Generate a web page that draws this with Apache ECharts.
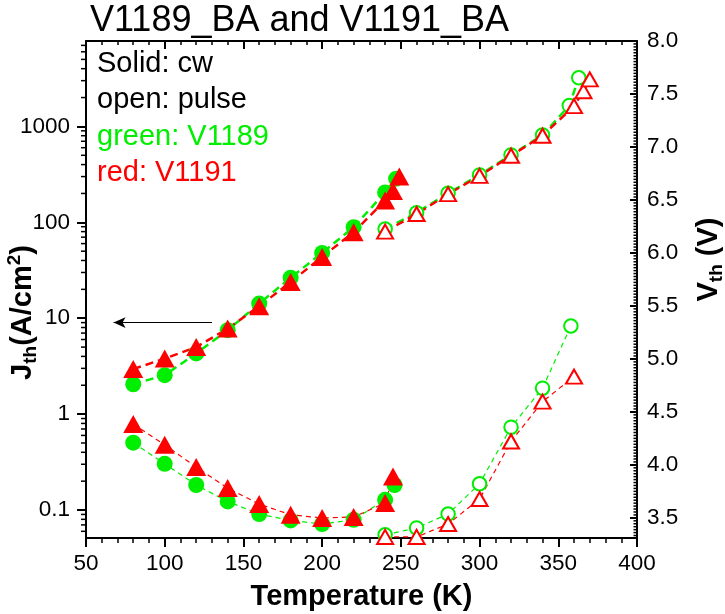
<!DOCTYPE html>
<html><head><meta charset="utf-8">
<script src="https://cdn.jsdelivr.net/npm/echarts@6/dist/echarts.min.js"></script>
<style>html,body{margin:0;padding:0;background:#fff}#c{width:725px;height:614px}</style>
</head><body><div id="c"></div>
<script>
// ---- data ----
const titleText = 'V1189_BA and V1191_BA';
const notes = ['Solid: cw', 'open: pulse', 'green: V1189', 'red: V1191'];

// J_th cw (left, log axis)
const tJcwGreen = [80, 100, 120, 140, 160, 180, 200, 220, 240, 247];
const jCwGreen  = [2.05, 2.55, 4.3, 7.5, 14.2, 26.5, 48, 89, 205, 285];
const tJcwRed   = [80, 100, 120, 140, 160, 180, 200, 220, 240, 245, 249];
const jCwRed    = [2.95, 3.8, 5.0, 7.8, 13.3, 23.9, 43.6, 79, 169, 212, 300];

// J_th pulse (left, log axis)
const tJpGreen = [240, 260, 280, 300, 320, 340, 357, 363];
const jPGreen  = [85, 126, 201, 312, 505, 812, 1650, 3215];
const tJpRed   = [240, 260, 280, 300, 320, 340, 360, 366, 370];
const jPRed    = [80, 122, 197, 305, 495, 800, 1630, 2330, 3090];

// V_th cw (right axis)
const tVcwGreen = [80, 100, 120, 140, 160, 180, 200, 220, 240, 246];
const vCwGreen  = [4.21, 4.01, 3.81, 3.655, 3.536, 3.476, 3.442, 3.482, 3.67, 3.81];
const tVcwRed   = [80, 100, 120, 140, 160, 180, 200, 220, 240, 245];
const vCwRed    = [4.385, 4.189, 3.979, 3.781, 3.63, 3.53, 3.499, 3.508, 3.64, 3.89];

// V_th pulse (right axis)
const tVpGreen = [240, 260, 280, 300, 320, 340, 358];
const vPGreen  = [3.34, 3.405, 3.536, 3.822, 4.356, 4.724, 5.311];
const tVpRed   = [240, 260, 280, 300, 320, 340, 360];
const vPRed    = [3.32, 3.32, 3.442, 3.678, 4.221, 4.597, 4.833];

// arrow annotation (data coords)
const arrowFrom = [130, 9.0];
const arrowTo   = [67.5, 9.0];

// axis ranges
const xMin = 50, xMax = 400, xStep = 50;
const jMin = 0.0511, jMax = 7775;
const vMin = 3.31, vMax = 8.0;
const logMinorTicks = [0.06,0.07,0.08,0.09, 0.2,0.3,0.4,0.5,0.6,0.7,0.8,0.9, 2,3,4,5,6,7,8,9,
                       20,30,40,50,60,70,80,90, 200,300,400,500,600,700,800,900, 2000,3000,4000,5000,6000,7000];
const vMinorStep = 0.5 / 18;

// ---- build ----
const GREEN = '#00ee00', RED = '#ff0000';
const FONT = "'Liberation Sans', Arial, sans-serif";
const pairs = (xs, ys) => xs.map((x, i) => [x, ys[i]]);

const vMinorTicks = [];
for (let k = 1; ; k++) {
  const v = 3.0 + k * vMinorStep;
  if (v >= vMax) break;
  if (v <= vMin) continue;
  const r = v / 0.5;
  if (Math.abs(r - Math.round(r)) < 1e-6) continue;
  vMinorTicks.push(v);
}

function lineSeries(xs, ys, yIdx, color, symbol, size, lw, dash, opts) {
  const open = symbol.startsWith('empty');
  return Object.assign({
    type: 'line', xAxisIndex: 0, yAxisIndex: yIdx,
    data: pairs(xs, ys),
    symbol: symbol, symbolSize: size, showAllSymbol: true,
    lineStyle: { color: color, width: lw, type: dash },
    itemStyle: { color: color, borderWidth: open ? 2.2 : 0, borderColor: color },
    emphasis: { disabled: true },
    animation: false, clip: true, z: 3
  }, opts || {});
}

const chart = echarts.init(document.getElementById('c'), null, { renderer: 'canvas' });

const tickSeries = (data, yIdx, len) => ({
  type: 'custom', xAxisIndex: 0, yAxisIndex: yIdx, silent: true, clip: false, z: 10,
  animation: false,
  data: data,
  renderItem: (params, api) => {
    const p = api.coord([api.value(0), api.value(1)]);
    return { type: 'line', shape: { x1: p[0] + len, y1: p[1], x2: p[0], y2: p[1] },
             style: { stroke: '#000', lineWidth: 1.5 } };
  }
});

const option = {
  backgroundColor: '#fff',
  animation: false,
  textStyle: { fontFamily: FONT },
  grid: { left: 86, top: 41, width: 551, height: 497, containLabel: false, outerBoundsMode: 'none' },
  xAxis: [{
    type: 'value', min: xMin, max: xMax, interval: xStep, position: 'bottom',
    axisLine: { lineStyle: { color: '#000', width: 2 } },
    axisTick: { inside: false, length: 9, lineStyle: { color: '#000', width: 2 } },
    minorTick: { show: true, splitNumber: 5, length: 5, lineStyle: { color: '#000', width: 1.5 } },
    splitLine: { show: false },
    axisLabel: { color: '#000', fontSize: 22.5, fontFamily: FONT, margin: 14 },
    name: 'Temperature (K)', nameLocation: 'middle', nameGap: 44, nameMoveOverlap: false,
    nameTextStyle: { color: '#000', fontSize: 29, fontWeight: 'bold', fontFamily: FONT }
  }, {
    type: 'value', min: xMin, max: xMax, interval: xStep, position: 'top',
    axisLine: { lineStyle: { color: '#000', width: 2 } },
    axisTick: { inside: true, length: 8, lineStyle: { color: '#000', width: 2 } },
    minorTick: { show: true, splitNumber: 5, length: 4, lineStyle: { color: '#000', width: 1.5 } },
    splitLine: { show: false },
    axisLabel: { show: false }
  }],
  yAxis: [{
    type: 'log', logBase: 10, min: jMin, max: jMax, position: 'left',
    axisLine: { lineStyle: { color: '#000', width: 2 } },
    axisTick: { inside: false, length: 9, lineStyle: { color: '#000', width: 2 } },
    splitLine: { show: false },
    axisLabel: {
      color: '#000', fontSize: 22.5, fontFamily: FONT, margin: 16,
      showMinLabel: false, showMaxLabel: false,
      formatter: v => { const l = Math.log10(v); return Math.abs(l - Math.round(l)) < 1e-6 ? String(+v.toPrecision(6)) : ''; }
    },
    name: '{b|J}{s|th}{b|(A/cm}{p|2}{b|)}', nameLocation: 'middle', nameGap: 46, nameRotate: 90,
    nameMoveOverlap: false,
    nameTextStyle: {
      color: '#000', fontFamily: FONT, padding: [0, 46, 0, 0],
      rich: {
        b: { fontSize: 29, fontWeight: 'bold', fontFamily: FONT, color: '#000' },
        s: { fontSize: 19, fontWeight: 'bold', fontFamily: FONT, color: '#000', padding: [16, 0, 0, 0] },
        p: { fontSize: 19, fontWeight: 'bold', fontFamily: FONT, color: '#000', padding: [0, 0, 16, 0] }
      }
    }
  }, {
    type: 'value', min: vMin, max: vMax, position: 'right', splitNumber: 10,
    axisLine: { lineStyle: { color: '#000', width: 2 } },
    axisTick: { inside: true, length: 7, lineStyle: { color: '#000', width: 2 } },
    splitLine: { show: false },
    axisLabel: { color: '#000', fontSize: 22.5, fontFamily: FONT, margin: 10, showMinLabel: false,
                 formatter: v => v.toFixed(1) },
    name: '{b|V}{s|th}{b| (V)}', nameLocation: 'middle', nameGap: 54, nameRotate: 90,
    nameMoveOverlap: false,
    nameTextStyle: {
      color: '#000', fontFamily: FONT, padding: [0, 0, 0, 60],
      rich: {
        b: { fontSize: 29, fontWeight: 'bold', fontFamily: FONT, color: '#000' },
        s: { fontSize: 19, fontWeight: 'bold', fontFamily: FONT, color: '#000', padding: [16, 0, 0, 0] }
      }
    }
  }],
  graphic: [
    { type: 'text', left: 90, top: 3, z: 100, style: { text: titleText, font: '36px ' + FONT, fill: '#000' } },
    { type: 'text', x: 97, y: 64, z: 100, style: { text: notes[0], font: '29px ' + FONT, fill: '#000', verticalAlign: 'middle' } },
    { type: 'text', x: 97, y: 100, z: 100, style: { text: notes[1], font: '29px ' + FONT, fill: '#000', verticalAlign: 'middle' } },
    { type: 'text', x: 97, y: 137, z: 100, style: { text: notes[2], font: '29px ' + FONT, fill: GREEN, verticalAlign: 'middle' } },
    { type: 'text', x: 97, y: 173, z: 100, style: { text: notes[3], font: '29px ' + FONT, fill: RED, verticalAlign: 'middle' } }
  ],
  series: [
    lineSeries(tJcwGreen, jCwGreen, 0, GREEN, 'circle', 16, 2.5, [8, 5], {
      markLine: {
        silent: true, animation: false, symbol: ['none', 'arrow'], symbolSize: [8, 12],
        lineStyle: { color: '#000', width: 1.2, type: 'solid' }, label: { show: false },
        data: [[{ coord: arrowFrom }, { coord: arrowTo }]]
      }
    }),
    lineSeries(tJcwRed, jCwRed, 0, RED, 'triangle', [20, 18], 2.5, [8, 5]),
    lineSeries(tJpGreen, jPGreen, 0, GREEN, 'emptyCircle', 13.5, 2.5, [8, 5]),
    lineSeries(tJpRed, jPRed, 0, RED, 'emptyTriangle', [16, 14], 2.5, [8, 5]),
    lineSeries(tVcwGreen, vCwGreen, 1, GREEN, 'circle', 16, 1.2, [5, 4]),
    lineSeries(tVcwRed, vCwRed, 1, RED, 'triangle', [20, 18], 1.2, [5, 4]),
    lineSeries(tVpGreen, vPGreen, 1, GREEN, 'emptyCircle', 13.5, 1.2, [5, 4]),
    lineSeries(tVpRed, vPRed, 1, RED, 'emptyTriangle', [16, 14], 1.2, [5, 4]),
    tickSeries(logMinorTicks.map(v => [xMin, v]), 0, -5),
    tickSeries(vMinorTicks.map(v => [xMax, v]), 1, -3.5)
  ]
};
chart.setOption(option);
</script>
</body></html>
